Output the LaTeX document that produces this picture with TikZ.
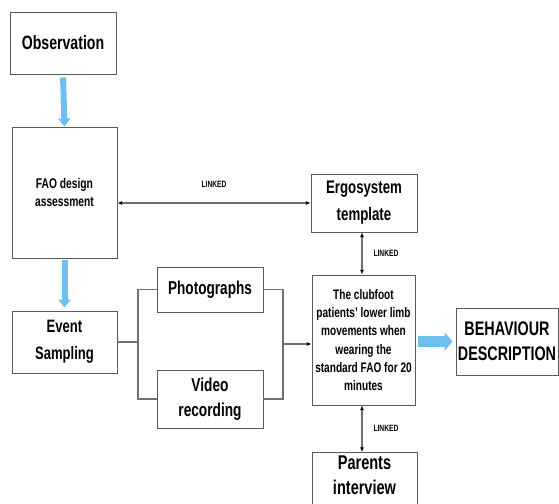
\documentclass[tikz,border=0pt]{standalone}
\usepackage{fontspec}
\setmainfont[FakeStretch=0.73]{Liberation Sans}
\usetikzlibrary{arrows.meta, positioning}
\definecolor{flowblue}{HTML}{6FBEF0}
\definecolor{boxline}{HTML}{5A5A5A}
\definecolor{wirecol}{HTML}{707070}
\newcommand{\boxfont}[2]{\fontsize{#1}{#2}\selectfont\bfseries}

\begin{document}
\begin{tikzpicture}[
    x=0.03cm, y=-0.03cm,
    >={Latex[length=4pt, width=3.5pt, color=black]},
    box/.style={draw=boxline, line width=0.8pt, fill=white, align=center, inner sep=0pt},
    flow/.style={draw=flowblue, line width=0.18cm, -{Triangle[width=0.36cm, length=0.24cm]}},
    flowwide/.style={draw=flowblue, line width=0.33cm, -{Triangle[width=0.55cm, length=0.24cm]}},
    wire/.style={draw=wirecol, line width=0.9pt},
    linked/.style={wire, <->},
    tag/.style={font=\boxfont{7.8}{9}, inner sep=0pt}
]
\useasboundingbox (0,0) rectangle (559,504);

% Left column
\node[box, minimum width=3.18cm, minimum height=1.86cm, font=\boxfont{16.5}{20}] (obs) at (63,43) {Observation};
\node[box, minimum width=3.15cm, minimum height=3.93cm, font=\boxfont{12}{15.5}] (fao) at (64.5,192.5) {FAO design\\assessment};
\node[box, minimum width=3.15cm, minimum height=1.86cm, font=\boxfont{15.3}{23}] (event) at (64.5,342) {Event\\Sampling};

% Recording methods
\node[box, minimum width=3.18cm, minimum height=1.35cm, font=\boxfont{15.9}{20}] (photo) at (210,289.5) {Photographs};
\node[box, minimum width=3.18cm, minimum height=1.74cm, font=\boxfont{16}{21.5}] (video) at (210,399) {Video\\recording};

% Right column
\node[box, minimum width=3.18cm, minimum height=1.74cm, font=\boxfont{15.5}{23}] (ergo) at (364,203) {Ergosystem\\template};
\node[box, minimum width=3.09cm, minimum height=3.9cm, font=\boxfont{11.8}{15.6}] (club) at (363.5,340) {The clubfoot\\patients' lower limb\\movements when\\wearing the\\standard FAO for 20\\minutes};
\node[box, minimum width=3.15cm, minimum height=1.74cm, text depth=0.4cm, font=\boxfont{17}{21.5}, anchor=north] (parents) at (364.5,452) {Parents\\interview};
\node[box, minimum width=3.06cm, minimum height=2.01cm, font=\boxfont{16.8}{21.3}] (behav) at (507,341.5) {BEHAVIOUR\\DESCRIPTION};

% Blue flow arrows
\draw[flow, shorten <=0.09cm] (obs.south) -- (fao.north);
\draw[flow, shorten <=0.06cm, shorten >=0.09cm] (fao.south) -- (event.north);
\draw[flowwide, shorten <=0.09cm, shorten >=0.09cm] (club.east |- behav.west) -- (behav.west);

% Links
\draw[linked] (fao.east |- ergo.west) -- node[tag, above=0.45cm] (lnkA) {LINKED} (ergo.west);
\draw[linked] (ergo.south -| 362,0) -- node[tag, right=0.33cm] (lnkB) {LINKED} (club.north -| 362,0);
\draw[linked] (club.south -| 362,0) -- node[tag, right=0.33cm] (lnkC) {LINKED} (parents.north -| 362,0);

% Sampling split and merge
\coordinate (splitL) at (138,342);
\coordinate (splitR) at (283,344);
\draw[wire] (event.east) -- (splitL);
\draw[wire] (photo.west) -| (splitL) |- (video.west);
\draw[wire] (photo.east) -| (splitR) |- (video.east);
\draw[wire, ->] (splitR) -- (splitR -| club.west);
\end{tikzpicture}
\end{document}
